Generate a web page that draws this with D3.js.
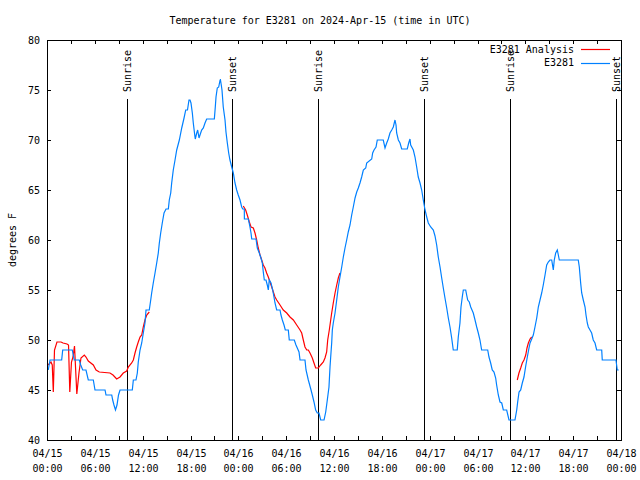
<!DOCTYPE html>
<html><head><meta charset="utf-8">
<script src="https://cdn.jsdelivr.net/npm/d3@7"></script>
<style>
body{margin:0;background:#fff}
text{font-family:"DejaVu Sans Mono","Liberation Mono",monospace;font-size:10px;fill:#000}
</style>
</head><body>
<svg id="chart" width="640" height="480"></svg>
<script>
// hours since 2024-04-15 00:00 UTC
const blueHours = [0.16,0.38,1.84,1.97,3.17,3.42,4.05,4.23,4.48,4.89,5.18,5.81,6.02,7.28,7.40,8.12,8.24,8.40,8.59,8.78,8.97,9.16,10.70,10.83,11.16,11.33,11.45,11.67,11.88,12.08,12.29,12.42,12.83,13.01,13.13,13.33,13.55,13.76,13.96,14.09,14.26,14.46,14.68,14.93,15.22,15.34,15.52,15.64,15.84,16.06,16.27,16.60,16.90,17.19,17.40,17.62,17.81,17.94,18.06,18.23,18.35,18.53,18.60,18.78,18.90,19.07,19.19,19.40,19.61,19.82,20.03,20.99,21.11,21.20,21.36,21.54,21.66,21.74,21.86,21.95,22.11,22.33,22.45,22.62,22.79,22.95,23.17,23.37,23.58,23.79,23.99,24.21,24.42,24.55,24.75,24.76,25.25,25.46,25.59,25.68,26.22,26.38,26.63,26.84,27.01,27.13,27.26,27.47,27.63,27.76,27.88,28.10,28.31,28.47,28.60,28.81,29.23,29.35,29.52,29.73,29.89,30.27,30.39,31.02,31.23,31.45,31.61,31.74,32.36,32.49,32.78,33.12,33.28,33.49,33.70,33.90,34.12,34.33,34.75,34.96,35.16,35.37,35.50,35.62,35.71,35.79,35.91,36.13,36.34,36.54,36.75,36.97,37.17,37.38,37.59,37.79,38.01,38.22,38.42,38.64,38.85,39.05,39.26,39.47,39.68,39.98,40.10,40.73,40.85,41.02,41.27,41.43,42.18,42.40,42.61,42.81,43.02,43.24,43.44,43.65,43.78,43.86,44.07,44.28,44.49,45.19,45.37,45.53,45.62,45.95,46.16,46.37,46.57,46.79,47.00,47.20,47.42,47.63,47.83,48.13,48.46,48.67,48.88,49.08,49.30,49.51,49.71,49.92,50.14,50.34,50.55,50.76,50.96,51.46,51.59,51.80,51.93,52.09,52.22,52.52,52.64,52.77,52.97,53.15,53.31,53.47,53.69,53.90,54.10,54.31,54.52,55.28,55.44,55.65,55.85,56.07,56.28,56.40,56.61,56.82,57.04,57.24,57.66,57.95,58.70,58.92,59.04,59.21,59.42,59.62,59.83,60.05,60.25,60.46,60.59,60.80,61.00,61.21,61.43,61.63,61.84,62.05,62.25,62.47,62.68,62.88,63.09,63.31,63.51,63.63,63.81,64.01,64.14,64.26,66.64,66.77,66.94,67.07,67.27,67.49,67.61,67.77,67.90,68.11,68.32,68.52,68.74,68.95,69.58,69.65,71.37,71.53,71.71];
const blueTemps = [47,48,48,49,49,48,48,47.5,47,47,46,46,45,45,44.5,44.5,44,43.5,43,43.5,44.5,45,45,46,46,46.7,47.8,49,49.7,50.7,51.7,53,53,54,54.7,55.7,56.7,57.7,58.7,59.7,60.7,61.7,62.7,63.1,63.1,64,64.7,65.7,67,68,69,70,71.2,72.2,73,73,74,74,73.7,72.7,71.7,70.5,70.1,70.7,71,70.2,70.5,71,71.2,71.7,72.1,72.1,73.3,74.3,75.2,75.3,75.8,76.1,75.5,75,73.3,72,70.8,69.7,68.7,68,67.3,66.7,65.7,65,64.5,64,63.3,63.1,63.1,62.1,62.1,61.3,60.7,60.1,60.1,59.2,58.7,58.2,57.7,56.8,56,56,55.5,55,56,55.7,55,54.3,53.7,53,53,52.5,52,51.5,51,51,50,50,49.5,49.1,48.8,48,48,47,46,45,44.5,43.8,43,42.7,42.7,42,42,42.8,44,45.3,47.3,48.7,49.7,51,51.7,52.7,54,55.3,56.3,57.3,58.3,59.2,60,60.8,61.5,62.5,63.3,64.2,64.8,65.2,65.7,66.3,67,67.2,67.7,68.1,68.7,69,69.3,70,70,69.2,69.7,70.1,70.7,71,71.3,72,71.5,70.7,70,69.7,69.1,69.1,69.7,70.1,69.5,69,68.3,67.3,66.3,65.7,65,64,63,62.3,61.7,61.3,61,60.4,59.5,58.3,57.3,56.2,55.2,54.2,53.2,52.2,51.3,50.2,49,49,50.3,51.7,53.3,54.3,55,55,54.5,54,53.8,53.3,53,52.7,52,51.3,50.7,50,49,49,48.3,47.7,47,46.8,46.2,45.5,44.5,43.8,43.7,43,43,42,42,43,43.8,44.8,45,45.7,46.3,47.4,48.3,49.2,49.7,50.1,50.5,51.3,52.2,53.3,54,54.7,55.5,56.5,57.5,57.8,58,58,57,58,58.7,59,58.5,58,58,57.3,55.7,54.7,54,53.3,52.5,51.7,51.3,51,50.7,50,49.7,49,49,48,48,47,47];

// null marks a gap in the analysis series
const redHours = [0.13,0.50,0.66,0.79,0.94,1.25,1.76,2.01,2.51,2.70,2.86,3.07,3.26,3.45,3.74,4.01,4.26,4.68,4.89,5.18,5.81,6.15,6.56,7.90,8.28,8.74,9.16,9.57,10.00,10.20,10.62,10.83,11.04,11.25,11.45,11.67,11.88,12.08,12.29,12.51,12.83,
  18.0,
  24.62,24.92,25.12,25.38,25.59,25.88,26.09,26.30,26.50,26.72,26.93,27.13,27.34,27.55,27.76,27.97,28.19,28.39,28.60,28.81,29.23,29.64,30.07,30.48,30.90,31.32,31.74,31.95,32.15,32.36,32.58,32.78,32.99,33.28,33.49,33.70,34.03,34.33,34.66,34.87,35.08,35.21,35.41,35.71,35.91,36.13,36.34,36.54,36.75,
  48.0,
  58.99,59.20,59.42,59.62,59.83,60.05,60.21,60.38,60.59,60.80];
const redTemps = [47.5,47.8,47.5,44.8,49,49.8,49.8,49.7,49.6,49.5,44.8,47.8,48.3,49.4,44.6,46.7,48.2,48.5,48.3,47.9,47.5,47,46.8,46.7,46.5,46.1,46.3,46.7,46.9,47.3,47.7,48,48.7,49.3,49.8,50.3,50.5,51.3,52,52.5,52.8,
  null,
  63.4,63,62.5,61.8,61.3,61.2,60.7,60,59.2,58.5,58,57.5,57.2,56.7,56.3,55.8,55.3,54.8,54.3,54,53.5,53,52.7,52.3,52,51.5,51,50.7,50,49.3,49,49,48.7,48.2,47.7,47.2,47.2,47.5,47.8,48.2,48.8,50,51,52.7,53.7,54.7,55.5,56.2,56.7,
  null,
  46,46.7,47.2,47.7,48,48.5,49.2,49.7,50.1,50.3];

const sunriseHours = [10.07, 34.05, 58.03];
const sunsetHours = [23.25, 47.30, 71.40];
const yTicks = [40,45,50,55,60,65,70,75,80];
const titleText = "Temperature for E3281 on 2024-Apr-15 (time in UTC)";
const yLabel = "degrees F";
const seriesNames = ["E3281 Analysis", "E3281"];
const seriesColors = ["#ff0000", "#0080ff"];

const t0 = Date.UTC(2024,3,15);
const toDate = h => new Date(t0 + h*3600000);

const L=47, R=621, T=40, B=440;
const svg = d3.select("#chart");
const x = d3.scaleUtc().domain([toDate(0), toDate(72)]).range([L, R]);
const y = d3.scaleLinear().domain([40,80]).range([B, T]);

// title & y label
svg.append("text").attr("x",320).attr("y",24).attr("text-anchor","middle").text(titleText);
svg.append("text").attr("transform","translate(12,240) rotate(-90)").attr("text-anchor","middle").attr("dy","0.35em").text(yLabel);

// sunrise / sunset markers
const marks = sunriseHours.map(h=>({h, label:"Sunrise"})).concat(sunsetHours.map(h=>({h,label:"Sunset"})));
marks.forEach(m=>{
  const xx = Math.round(x(toDate(m.h)))+0.5;
  svg.append("line").attr("x1",xx).attr("x2",xx).attr("y1",99).attr("y2",B)
    .attr("stroke","#000").attr("stroke-width",1).attr("shape-rendering","crispEdges");
  svg.append("text").attr("transform",`translate(${xx},92) rotate(-90)`)
    .attr("text-anchor","start").attr("dy","0.35em").text(m.label);
});

// axes: ticks inward, mirrored
const xt = d3.utcHour.every(3).range(toDate(0), toDate(72.01));
const gAx = svg.append("g").attr("shape-rendering","crispEdges").attr("stroke","#000");
xt.forEach(d=>{
  const xx = Math.round(x(d))+0.5;
  gAx.append("line").attr("x1",xx).attr("x2",xx).attr("y1",B).attr("y2",B-4);
  gAx.append("line").attr("x1",xx).attr("x2",xx).attr("y1",T).attr("y2",T+4);
  if (d.getUTCHours()%6===0){
    svg.append("text").attr("x",xx).attr("y",457).attr("text-anchor","middle").text(d3.utcFormat("%m/%d")(d));
    svg.append("text").attr("x",xx).attr("y",472).attr("text-anchor","middle").text(d3.utcFormat("%H:%M")(d));
  }
});
yTicks.forEach(v=>{
  const yy = Math.round(y(v))+0.5;
  gAx.append("line").attr("x1",L).attr("x2",L+4).attr("y1",yy).attr("y2",yy);
  gAx.append("line").attr("x1",R).attr("x2",R-4).attr("y1",yy).attr("y2",yy);
  svg.append("text").attr("x",40).attr("y",yy).attr("dy","0.35em").attr("text-anchor","end").text(v);
});

// series
const redData = redHours.map((h,i)=>({d:toDate(h), v:redTemps[i]}));
const blueData = blueHours.map((h,i)=>({d:toDate(h), v:blueTemps[i]}));
const line = d3.line().defined(p=>p.v!==null).x(p=>x(p.d)).y(p=>y(p.v));
svg.append("path").datum(redData).attr("d",line).attr("fill","none").attr("stroke",seriesColors[0]).attr("stroke-width",1.2);
svg.append("path").datum(blueData).attr("d",line).attr("fill","none").attr("stroke",seriesColors[1]).attr("stroke-width",1.2);

// border
svg.append("rect").attr("x",L+0.5).attr("y",T+0.5).attr("width",R-L).attr("height",B-T)
  .attr("fill","none").attr("stroke","#000").attr("shape-rendering","crispEdges");

// legend
seriesNames.forEach((n,i)=>{
  const yy = 49 + i*13.5;
  svg.append("text").attr("x",574).attr("y",yy).attr("dy","0.35em").attr("text-anchor","end").text(n);
  svg.append("line").attr("x1",581).attr("x2",610).attr("y1",Math.round(yy)+0.5).attr("y2",Math.round(yy)+0.5)
    .attr("stroke",seriesColors[i]).attr("stroke-width",1.2);
});
</script>
</body></html>
